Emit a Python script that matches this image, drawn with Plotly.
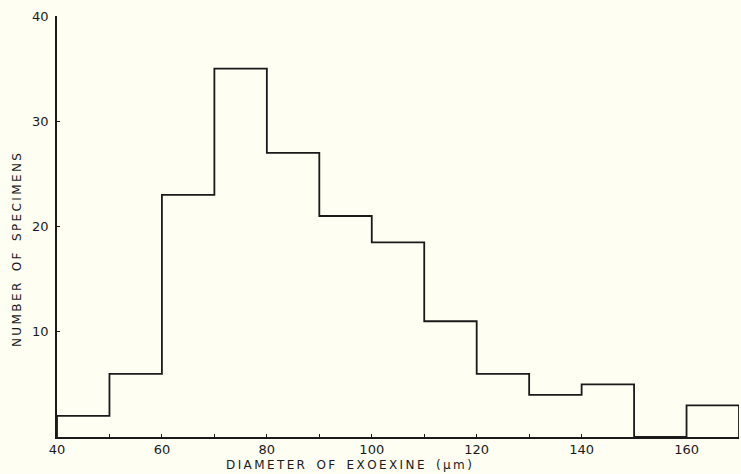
import plotly.graph_objects as go

bin_edges = [40, 50, 60, 70, 80, 90, 100, 110, 120, 130, 140, 150, 160, 170]
counts = [2, 6, 23, 35, 27, 21, 18.5, 11, 6, 4, 5, 0, 3]
x_tick_vals = [40, 60, 80, 100, 120, 140, 160]
y_tick_vals = [10, 20, 30, 40]
x_title = "DIAMETER OF EXOEXINE (µm)"
y_title = "NUMBER OF SPECIMENS"

xs = [bin_edges[0]] + bin_edges + [bin_edges[-1]]
ys = [0] + counts + [counts[-1], 0]

BG = "#fefef3"
INK = "#1a1a1a"
FONT = "DejaVu Sans, Liberation Sans, Arial, sans-serif"


def spaced(s):
    words = s.split(" ")
    return ("\u00a0\u00a0\u00a0").join("\u2009".join(w) for w in words)


fig = go.Figure()
fig.add_trace(go.Scatter(
    x=xs, y=ys, mode="lines", line=dict(shape="hv", color=INK, width=1.8),
    cliponaxis=False, hoverinfo="skip", showlegend=False,
))

W, H = 741, 474
ML, MR, MT, MB = 57, 2, 16, 37

fig.update_layout(
    width=W, height=H,
    paper_bgcolor=BG, plot_bgcolor=BG,
    margin=dict(l=ML, r=MR, t=MT, b=MB, autoexpand=False),
    font=dict(family=FONT, color=INK, size=13),
    xaxis=dict(
        range=[40, 170], tickvals=x_tick_vals, showgrid=False, zeroline=False,
        showline=True, linecolor=INK, linewidth=1.5, ticks="inside", ticklen=3,
        tickcolor=INK, tickfont=dict(size=13), automargin=False,
        minor=dict(dtick=10, tick0=40, ticks="inside", ticklen=3, tickcolor=INK),
    ),
    yaxis=dict(
        range=[0, 40], tickvals=y_tick_vals, showgrid=False, zeroline=False,
        showline=True, linecolor=INK, linewidth=1.5, ticks="inside", ticklen=3,
        tickcolor=INK, tickfont=dict(size=13), ticklabelstandoff=4, automargin=False,
    ),
)

# title positions given in figure pixels, converted to paper coordinates
pl, pr, pt, pb = ML, W - MR, MT, H - MB
def to_paper(px, py):
    return (px - pl) / (pr - pl), (pb - py) / (pb - pt)

ax, ay = to_paper(349, 465.5)
bx, by = to_paper(17, 250)
fig.add_annotation(text=spaced(x_title), x=ax, y=ay, xref="paper", yref="paper",
                   showarrow=False, xanchor="center", yanchor="middle",
                   font=dict(size=12))
fig.add_annotation(text=spaced(y_title), x=bx, y=by, xref="paper", yref="paper",
                   showarrow=False, xanchor="center", yanchor="middle",
                   textangle=-90, font=dict(size=12))

fig.write_html("out.html", config={"displayModeBar": False},
               post_script="document.body.style.margin='0';document.body.style.overflow='hidden';")
